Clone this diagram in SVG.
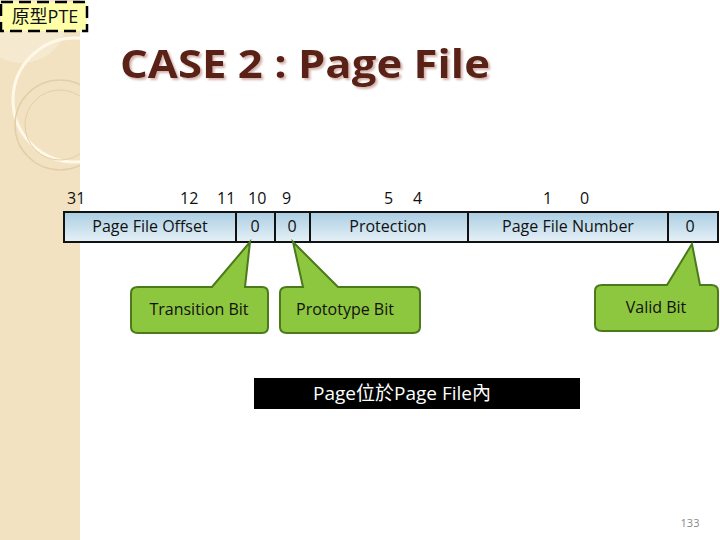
<svg xmlns="http://www.w3.org/2000/svg" width="720" height="540" viewBox="0 0 720 540">
<defs>
<linearGradient id="cell" x1="0" y1="0" x2="0" y2="1"><stop offset="0" stop-color="#a9cde2"/><stop offset="1" stop-color="#e6f1f7"/></linearGradient>
<filter id="sh" x="-5%" y="-20%" width="110%" height="140%"><feDropShadow dx="2" dy="2" stdDeviation="0.8" flood-color="#c9a098" flood-opacity="0.8"/></filter>
<style>
.t{font-family:"Open Sans","DejaVu Sans",sans-serif;font-size:16px;fill:#111}
.c{fill:#8dc63f;stroke:#4a7a1a;stroke-width:2}
.cell{fill:url(#cell);stroke:#111;stroke-width:2}
</style>
</defs>
<rect width="720" height="540" fill="#fff"/>
<g id="bg">
<rect x="0" y="0" width="80" height="540" fill="#f2e2c2"/>
<circle cx="22" cy="18" r="45" fill="#f7ecd6" opacity="0.7"/>
<circle cx="75" cy="100" r="62" fill="none" stroke="#fff8e8" stroke-width="3"/>
<circle cx="60" cy="125" r="45" fill="none" stroke="#e3cfa6" stroke-width="1.5"/>
<circle cx="60" cy="125" r="35" fill="none" stroke="#e3cfa6" stroke-width="1"/>
<rect x="80" y="0" width="640" height="540" fill="#fff"/>
</g>
<g id="tag">
<rect x="1" y="2" width="86" height="29" fill="#ffffa8" stroke="#000" stroke-width="2.5" stroke-dasharray="12,6"/>
<text x="45" y="23" text-anchor="middle" font-family="'Open Sans','Noto Sans CJK SC',sans-serif" font-size="18" fill="#111">原型PTE</text>
</g>
<text x="120" y="78" filter="url(#sh)" font-family="'Open Sans','DejaVu Sans',sans-serif" font-weight="bold" font-size="40" textLength="370" lengthAdjust="spacingAndGlyphs" fill="#5a2218">CASE 2 : Page File</text>
<g id="bits" class="t">
<text x="67" y="204">31</text><text x="180" y="204">12</text><text x="217" y="204">11</text><text x="248" y="204">10</text><text x="282" y="204">9</text>
<text x="384" y="204">5</text><text x="413" y="204">4</text><text x="543" y="204">1</text><text x="580" y="204">0</text>
</g>
<g id="register" class="t">
<rect class="cell" x="64" y="212" width="172" height="30"/><text x="150" y="232" text-anchor="middle">Page File Offset</text>
<rect class="cell" x="236" y="212" width="39" height="30"/><text x="255" y="232" text-anchor="middle">0</text>
<rect class="cell" x="275" y="212" width="35" height="30"/><text x="292" y="232" text-anchor="middle">0</text>
<rect class="cell" x="310" y="212" width="158" height="30"/><text x="388" y="232" text-anchor="middle">Protection</text>
<rect class="cell" x="468" y="212" width="200" height="30"/><text x="568" y="232" text-anchor="middle">Page File Number</text>
<rect class="cell" x="668" y="212" width="50" height="30"/><text x="690" y="232" text-anchor="middle">0</text>
</g>
<g id="connectors">
<path class="c" d="M138,287 H212 L250,242 L245,287 H262 Q268,287 268,293 V327 Q268,333 262,333 H138 Q131,333 131,327 V293 Q131,287 138,287 Z"/>
<path class="c" d="M287,287 H303 L293,242 L338,287 H413 Q420,287 420,293 V327 Q420,333 413,333 H287 Q280,333 280,327 V293 Q280,287 287,287 Z"/>
<path class="c" d="M602,285 H667 L692,244 L700,285 H711 Q718,285 718,291 V325 Q718,331 711,331 H602 Q595,331 595,325 V291 Q595,285 602,285 Z"/>
</g>
<g id="callouts" class="t">
<text x="199" y="315" text-anchor="middle">Transition Bit</text>
<text x="345" y="315" text-anchor="middle">Prototype Bit</text>
<text x="656" y="313" text-anchor="middle">Valid Bit</text>
</g>
<g id="note">
<rect x="254" y="378" width="326" height="31" fill="#000"/>
<text x="313" y="400" font-family="'Open Sans','Noto Sans CJK TC',sans-serif" font-size="19" fill="#fff">Page位於Page File內</text>
</g>
<text x="690" y="527" text-anchor="middle" font-family="'Open Sans',sans-serif" font-size="11" fill="#888">133</text>
</svg>
